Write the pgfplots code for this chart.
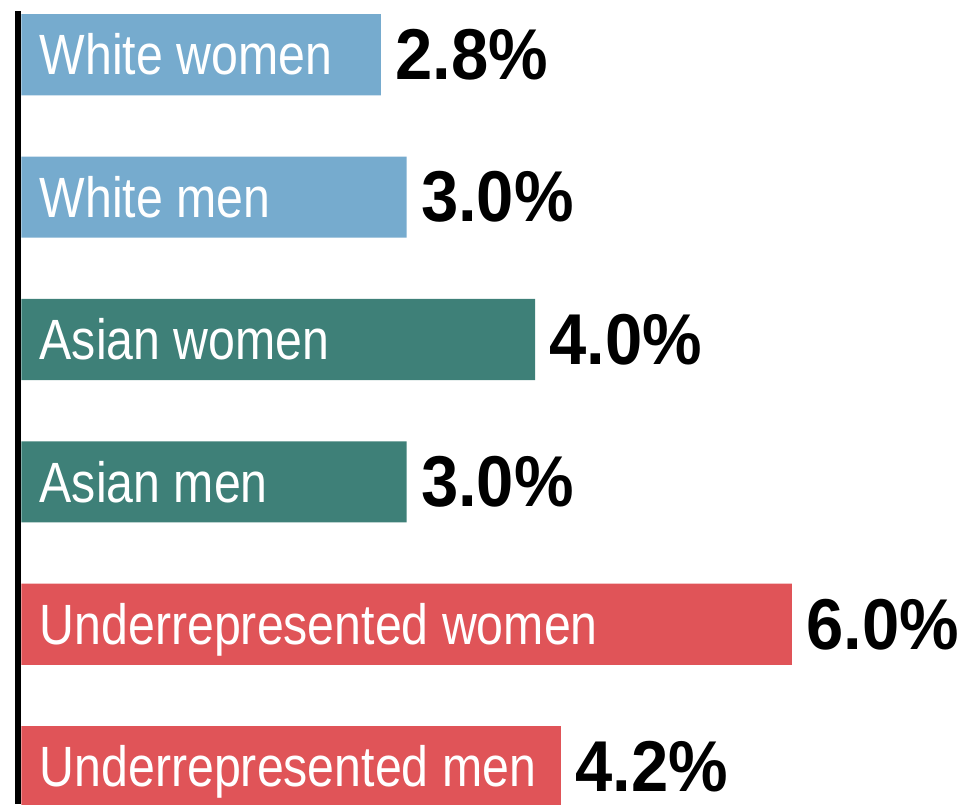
\documentclass[border=0pt]{standalone}
\usepackage{fontspec}
\setmainfont{Liberation Sans}
\newfontfamily\labfont[FakeStretch=0.85]{Liberation Sans}
\newfontfamily\valfont[FakeStretch=0.93]{Liberation Sans}
\usepackage{pgfplots}
\pgfplotsset{compat=1.18}
\pgfplotsset{
  layers/labelsontop/.define layer set={
    axis background,axis grid,axis ticks,axis lines,pre main,main,
    axis tick labels,axis descriptions,axis foreground
  }{/pgfplots/layers/standard},
}
\definecolor{cblue}{RGB}{118,171,206}
\definecolor{cteal}{RGB}{62,128,120}
\definecolor{cred}{RGB}{224,84,88}
\begin{document}
\begin{tikzpicture}
\begin{axis}[
  set layers=labelsontop,
  scale only axis,
  width=941.5pt, height=782pt,
  xmin=-0.0276, xmax=7.405,
  ymin=-0.306, ymax=5.2635,
  y dir=reverse,
  axis x line=none,
  axis y line*=left,
  axis line style={line width=6pt, black},
  ytick={0,1,2,3,4,5},
  yticklabels={White women, White men, Asian women, Asian men, Underrepresented women, Underrepresented men},
  major tick length=0pt,
  yticklabel style={anchor=base west, inner sep=0pt, xshift=21.5pt, yshift=-20pt,
    text=white, font=\labfont\fontsize{56}{60}\selectfont},
  /pgf/number format/assume math mode=true,
  xbar, bar width=0.57, bar shift=0pt,
  point meta=x,
  nodes near coords={\pgfmathprintnumber[fixed,fixed zerofill,precision=1]{\pgfplotspointmeta}\%},
  nodes near coords style={anchor=west, inner sep=0pt, xshift=14pt, text=black,
    font=\valfont\bfseries\fontsize{71}{75}\selectfont},
]
\addplot[fill=cblue, draw=none] coordinates {(2.8,0) (3.0,1)};
\addplot[fill=cteal, draw=none] coordinates {(4.0,2) (3.0,3)};
\addplot[fill=cred, draw=none] coordinates {(6.0,4) (4.2,5)};
\end{axis}
\path ([xshift=-17.5pt,yshift=11pt]current axis.north west);
\end{tikzpicture}
\end{document}
